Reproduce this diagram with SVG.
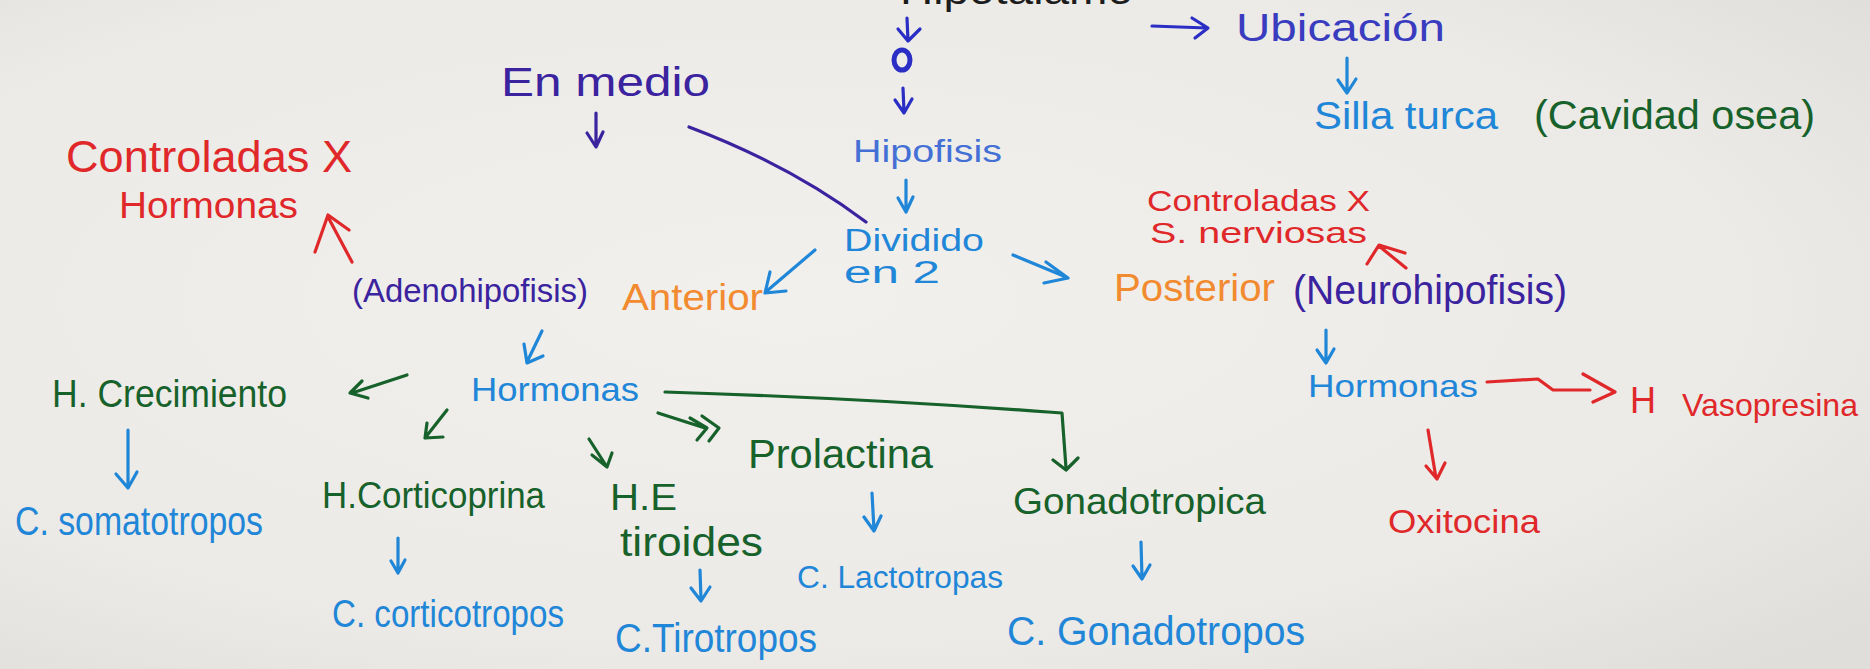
<svg xmlns="http://www.w3.org/2000/svg" width="1870" height="669" viewBox="0 0 1870 669">
  <defs>
    <radialGradient id="paper" cx="0.42" cy="0.45" r="0.75">
      <stop offset="0" stop-color="#f1f0ed"/>
      <stop offset="0.7" stop-color="#ebeae6"/>
      <stop offset="1" stop-color="#dfdeda"/>
    </radialGradient>
    <style>
      text { font-family: "Liberation Sans", Arial, sans-serif; font-weight: normal; }
      .purple { fill: #3b239f; }
      .violet { fill: #3a3cc0; }
      .blue { fill: #1f86d8; }
      .blue2 { fill: #4470d6; }
      .orange { fill: #f28a30; }
      .red { fill: #e0282a; }
      .green { fill: #17612b; }
      .black { fill: #1c1c1c; }
      .ln { fill: none; stroke-width: 3.2; stroke-linecap: round; stroke-linejoin: round; }
      .s-purple { stroke: #3b239f; }
      .s-violet { stroke: #2b2ec4; }
      .s-blue { stroke: #1f86d8; }
      .s-red { stroke: #e0282a; }
      .s-green { stroke: #17612b; }
    </style>
  </defs>

  <!-- paper -->
  <rect x="0" y="0" width="1870" height="669" fill="url(#paper)"/>

  <!-- heading line, cut by the top edge -->
  <g id="hipotalamo">
    <text class="black" x="900" y="4" font-size="40" textLength="233" lengthAdjust="spacingAndGlyphs">Hipotalamo</text>
  </g>

  <g id="ubicacion">
    <text class="violet" x="1236" y="41" font-size="38" textLength="209" lengthAdjust="spacingAndGlyphs">Ubicación</text>
  </g>
  <g id="silla-turca">
    <text class="blue" x="1314" y="129" font-size="38" textLength="184" lengthAdjust="spacingAndGlyphs">Silla turca</text>
    <text class="green" x="1534" y="129" font-size="40" textLength="281" lengthAdjust="spacingAndGlyphs">(Cavidad osea)</text>
  </g>
  <g id="en-medio">
    <text class="purple" x="501" y="96" font-size="40" textLength="209" lengthAdjust="spacingAndGlyphs">En medio</text>
  </g>
  <g id="hipofisis">
    <text class="blue2" x="853" y="162" font-size="32" textLength="149" lengthAdjust="spacingAndGlyphs">Hipofisis</text>
  </g>
  <g id="dividido">
    <text class="blue" x="844" y="251" font-size="31" textLength="140" lengthAdjust="spacingAndGlyphs">Dividido</text>
    <text class="blue" x="844" y="283" font-size="31" textLength="96" lengthAdjust="spacingAndGlyphs">en 2</text>
  </g>
  <g id="anterior">
    <text class="orange" x="622" y="310" font-size="36" textLength="141" lengthAdjust="spacingAndGlyphs">Anterior</text>
  </g>
  <g id="adenohipofisis">
    <text class="purple" x="352" y="302" font-size="34" textLength="236" lengthAdjust="spacingAndGlyphs">(Adenohipofisis)</text>
  </g>
  <g id="controladas-hormonas">
    <text class="red" x="66" y="172" font-size="44" textLength="286" lengthAdjust="spacingAndGlyphs">Controladas X</text>
    <text class="red" x="119" y="218" font-size="36" textLength="179" lengthAdjust="spacingAndGlyphs">Hormonas</text>
  </g>
  <g id="posterior">
    <text class="orange" x="1114" y="301" font-size="38" textLength="161" lengthAdjust="spacingAndGlyphs">Posterior</text>
  </g>
  <g id="neurohipofisis">
    <text class="purple" x="1293" y="304" font-size="40" textLength="274" lengthAdjust="spacingAndGlyphs">(Neurohipofisis)</text>
  </g>
  <g id="controladas-nerviosas">
    <text class="red" x="1147" y="211" font-size="29" textLength="223" lengthAdjust="spacingAndGlyphs">Controladas X</text>
    <text class="red" x="1150" y="243" font-size="29" textLength="217" lengthAdjust="spacingAndGlyphs">S. nerviosas</text>
  </g>

  <!-- anterior lobe hormones -->
  <g id="hormonas-anterior">
    <text class="blue" x="471" y="401" font-size="34" textLength="168" lengthAdjust="spacingAndGlyphs">Hormonas</text>
  </g>
  <g id="h-crecimiento">
    <text class="green" x="52" y="407" font-size="38" textLength="235" lengthAdjust="spacingAndGlyphs">H. Crecimiento</text>
  </g>
  <g id="c-somatotropos">
    <text class="blue" x="15" y="535" font-size="40" textLength="248" lengthAdjust="spacingAndGlyphs">C. somatotropos</text>
  </g>
  <g id="h-corticoprina">
    <text class="green" x="322" y="508" font-size="36" textLength="223" lengthAdjust="spacingAndGlyphs">H.Corticoprina</text>
  </g>
  <g id="c-corticotropos">
    <text class="blue" x="332" y="627" font-size="38" textLength="232" lengthAdjust="spacingAndGlyphs">C. corticotropos</text>
  </g>
  <g id="h-tiroides">
    <text class="green" x="610" y="510" font-size="36" textLength="67" lengthAdjust="spacingAndGlyphs">H.E</text>
    <text class="green" x="620" y="556" font-size="40" textLength="143" lengthAdjust="spacingAndGlyphs">tiroides</text>
  </g>
  <g id="c-tirotropos">
    <text class="blue" x="615" y="652" font-size="40" textLength="202" lengthAdjust="spacingAndGlyphs">C.Tirotropos</text>
  </g>
  <g id="prolactina">
    <text class="green" x="748" y="468" font-size="40" textLength="185" lengthAdjust="spacingAndGlyphs">Prolactina</text>
  </g>
  <g id="c-lactotropas">
    <text class="blue" x="797" y="588" font-size="32" textLength="206" lengthAdjust="spacingAndGlyphs">C. Lactotropas</text>
  </g>
  <g id="gonadotropica">
    <text class="green" x="1013" y="514" font-size="36" textLength="253" lengthAdjust="spacingAndGlyphs">Gonadotropica</text>
  </g>
  <g id="c-gonadotropos">
    <text class="blue" x="1007" y="645" font-size="40" textLength="298" lengthAdjust="spacingAndGlyphs">C. Gonadotropos</text>
  </g>

  <!-- posterior lobe hormones -->
  <g id="hormonas-posterior">
    <text class="blue" x="1308" y="397" font-size="32" textLength="170" lengthAdjust="spacingAndGlyphs">Hormonas</text>
  </g>
  <g id="vasopresina">
    <text class="red" x="1630" y="413" font-size="36">H</text>
    <text class="red" x="1682" y="416" font-size="32" textLength="176" lengthAdjust="spacingAndGlyphs">Vasopresina</text>
  </g>
  <g id="oxitocina">
    <text class="red" x="1388" y="533" font-size="34" textLength="152" lengthAdjust="spacingAndGlyphs">Oxitocina</text>
  </g>

  <!-- connectors -->
  <g id="connectors">
    <!-- hipotalamo -> hipofisis chain -->
    <path class="ln s-violet" stroke-width="4" d="M907,18 L908,41 M898,29 L908,41 L920,29"/>
    <ellipse cx="902" cy="60" rx="8" ry="10" fill="none" stroke="#2b2ec4" stroke-width="5"/>
    <path class="ln s-violet" d="M903,88 L904,112 M895,100 L904,113 L912,99"/>
    <!-- to ubicacion -->
    <path class="ln s-violet" d="M1152,26 L1207,28 M1192,18 L1208,28 L1195,38"/>
    <path class="ln s-blue" d="M1347,58 L1347,92 M1338,80 L1347,93 L1356,79"/>
    <!-- en medio -->
    <path class="ln s-purple" d="M596,113 L596,146 M587,133 L596,147 L603,132"/>
    <path class="ln s-purple" d="M689,127 Q790,165 866,222"/>
    <!-- hipofisis -> dividido -->
    <path class="ln s-blue" d="M906,180 L906,211 M898,198 L906,212 L913,197"/>
    <!-- dividido -> anterior / posterior -->
    <path class="ln s-blue" d="M815,250 L768,290 M770,272 L765,293 L786,291"/>
    <path class="ln s-blue" d="M1013,255 L1066,277 M1046,262 L1068,278 L1044,283"/>
    <!-- control arrows -->
    <path class="ln s-red" d="M1406,268 L1379,246 M1367,264 L1379,245 L1405,253"/>
    <path class="ln s-red" d="M352,262 L328,217 M315,252 L328,215 L349,230"/>
    <!-- adenohipofisis -> hormonas -->
    <path class="ln s-blue" d="M542,331 L527,362 M524,344 L527,363 L543,356"/>
    <!-- hormonas -> each hormone -->
    <path class="ln s-green" d="M407,375 L352,393 M362,381 L350,393 L368,398"/>
    <path class="ln s-green" d="M447,410 L425,438 M427,423 L425,438 L443,437"/>
    <path class="ln s-green" d="M589,439 L607,467 M592,455 L607,467 L612,453"/>
    <path class="ln s-green" d="M658,413 L705,428 M690,418 L707,428 L697,440 M702,416 L719,428 L709,441"/>
    <path class="ln s-green" d="M665,392 Q860,398 1048,412 L1062,413 L1066,468 M1053,460 L1066,470 L1078,458"/>
    <!-- hormone -> cell type -->
    <path class="ln s-blue" d="M128,430 L128,488 M116,474 L128,488 L137,472"/>
    <path class="ln s-blue" d="M398,538 L398,572 M391,561 L398,573 L405,560"/>
    <path class="ln s-blue" d="M700,570 L701,600 M691,588 L701,601 L710,587"/>
    <path class="ln s-blue" d="M872,493 L874,530 M864,517 L874,531 L881,516"/>
    <path class="ln s-blue" d="M1141,542 L1142,578 M1133,566 L1142,579 L1150,565"/>
    <!-- posterior branch -->
    <path class="ln s-blue" d="M1326,330 L1326,362 M1317,350 L1326,363 L1334,349"/>
    <path class="ln s-red" d="M1487,382 L1538,379 L1553,390 L1590,390 M1583,374 L1615,392 L1593,402"/>
    <path class="ln s-red" d="M1428,430 L1436,478 M1426,466 L1437,479 L1445,463"/>
  </g>
</svg>
